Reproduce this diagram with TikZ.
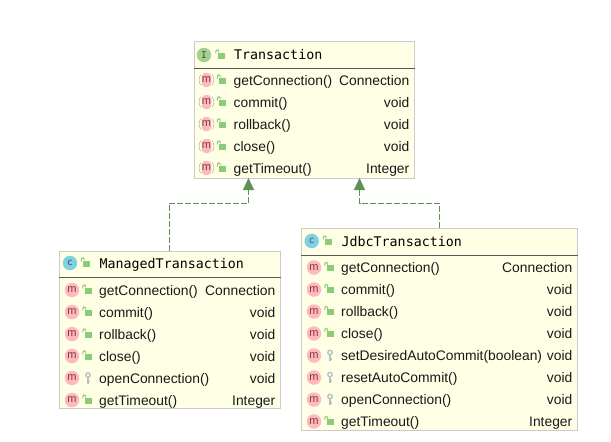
\documentclass[tikz,border=0pt]{standalone}
\usepackage{fontspec}
\setmainfont{Liberation Sans}
\newfontfamily\titlefont{DejaVu Sans Mono}
\usepackage{xcolor}
\usepackage{tikz}
\usetikzlibrary{shapes.geometric, arrows.meta, positioning, calc}
\definecolor{boxfill}{HTML}{FFFFE5}
\definecolor{boxline}{HTML}{CBCBCB}
\definecolor{lockgreen}{HTML}{8CCB78}
\definecolor{keygray}{HTML}{B4BFC7}
\definecolor{mpink}{HTML}{FFB8BC}
\definecolor{mtext}{HTML}{7A3A3C}
\definecolor{ifacegreen}{HTML}{A5D08E}
\definecolor{classblue}{HTML}{80D0E4}
\definecolor{arrowgreen}{HTML}{5E9253}
\tikzstyle{classbox} = [rectangle, draw=boxline, fill=boxfill, line width=1pt, inner sep=0pt, anchor=north west]
\tikzstyle{divider} = [draw=black!65, line width=0.8pt]
\tikzstyle{titletext} = [inner sep=0pt, anchor=base west, font=\titlefont\fontsize{13.3}{16}\selectfont]
\tikzstyle{nametext} = [inner sep=0pt, anchor=base west, font=\fontsize{13.85}{16}\selectfont, text=black!90]
\tikzstyle{typetext} = [inner sep=0pt, anchor=base east, font=\fontsize{13.85}{16}\selectfont, text=black!90]
\tikzstyle{methodicon} = [circle, fill=mpink, minimum size=14.5pt, inner sep=0pt, text=mtext, font=\fontsize{11}{11}\selectfont]
\tikzstyle{abstracticon} = [rectangle, rounded corners=3.5pt, fill=mpink, minimum width=9.5pt, minimum height=14pt, inner sep=0pt, text=mtext, font=\fontsize{11}{11}\selectfont]
\tikzstyle{classicon} = [circle, fill=#1, minimum size=14.5pt, inner sep=0pt, text=black!70, font=\titlefont\fontsize{9.5}{10}\selectfont]
\tikzstyle{lockbody} = [rectangle, fill=lockgreen, minimum width=7pt, minimum height=6pt, inner sep=0pt]
\tikzstyle{lockloop} = [draw=lockgreen, line width=1.1pt, rounded corners=1pt]
\tikzstyle{keyhead} = [circle, draw=keygray, line width=1.3pt, minimum size=4.5pt, inner sep=0pt]
\tikzstyle{keystem} = [draw=keygray, line width=1.5pt]
\tikzstyle{parenline} = [draw=black!30, line width=0.6pt]
\tikzstyle{arrow} = [draw=arrowgreen, line width=1pt, dash pattern=on 6pt off 2pt, -{Triangle[length=12pt, width=11pt, fill=arrowgreen]}]

% open lock and key, placed relative to the class box
\newcommand{\publock}[4]{
  \node (#1) [lockbody] at ($(#2.north west)+(#3,#4)$) {};
  \draw [lockloop] ($(#1.north west)+(1.3,0)$) -- ++(0,-2.3) -- ++(-2.8,0) -- ++(0,3.4);
}
\newcommand{\keylock}[4]{
  \node (#1) [keyhead] at ($(#2.north west)+(#3,#4-3.5)$) {};
  \draw [keystem] (#1.south) -- ++(0,6) (#1.south) ++(0,3.5) -- ++(1.8,0);
}
% one method row: id, box, y, m icon, lock macro, name, type
\newcommand{\methodrow}[7]{
  \node (#1icon) [#4] at ($(#2.north west)+(13,#3)$) {m};
  #5{#1lock}{#2}{29}{#3+0.5}
  \node (#1name) [nametext] at ($(#2.north west)+(40,#3+5)$) {#6};
  \node (#1type) [typetext] at ($(#2.north east)+(-5.5,#3+5)$) {#7};
}
% brackets round the m of an interface method
\newcommand{\methodparens}[1]{
  \draw [parenline] ($(#1icon.north west)+(-0.8,2)$) to[bend right=35] ($(#1icon.south west)+(-0.8,-2)$);
  \draw [parenline] ($(#1icon.north east)+(0.8,2)$) to[bend left=35] ($(#1icon.south east)+(0.8,-2)$);
}

\begin{document}
\begin{tikzpicture}[x=1pt, y=-1pt]
  \useasboundingbox (0,0) rectangle (611,442);

  \node (transaction) [classbox, minimum width=220.5pt, minimum height=137pt] at (193.5,41) {};
  \node (managed) [classbox, minimum width=221pt, minimum height=157pt] at (59,251) {};
  \node (jdbc) [classbox, minimum width=276pt, minimum height=202pt] at (301,228) {};

  \draw [divider] ($(transaction.north west)+(0,27)$) -- ($(transaction.north east)+(0,27)$);
  \draw [divider] ($(managed.north west)+(0,26)$) -- ($(managed.north east)+(0,26)$);
  \draw [divider] ($(jdbc.north west)+(0,27)$) -- ($(jdbc.north east)+(0,27)$);

  % headers
  \node (transactionicon) [classicon=ifacegreen] at ($(transaction.north west)+(10.5,14)$) {I};
  \publock{transactionlock}{transaction}{27.5}{14.5}
  \node (transactiontitle) [titletext] at ($(transaction.north west)+(40.5,18.8)$) {Transaction};

  \node (managedicon) [classicon=classblue] at ($(managed.north west)+(11,12)$) {c};
  \publock{managedlock}{managed}{27.5}{12.5}
  \node (managedtitle) [titletext] at ($(managed.north west)+(40.5,17)$) {ManagedTransaction};

  \node (jdbcicon) [classicon=classblue] at ($(jdbc.north west)+(10.7,13)$) {c};
  \publock{jdbclock}{jdbc}{27.5}{13.5}
  \node (jdbctitle) [titletext] at ($(jdbc.north west)+(40.5,18)$) {JdbcTransaction};

  % Transaction
  \methodrow{ta}{transaction}{39}{abstracticon}{\publock}{getConnection()}{Connection}
  \methodrow{tb}{transaction}{61}{abstracticon}{\publock}{commit()}{void}
  \methodrow{tc}{transaction}{83}{abstracticon}{\publock}{rollback()}{void}
  \methodrow{td}{transaction}{105}{abstracticon}{\publock}{close()}{void}
  \methodrow{te}{transaction}{127}{abstracticon}{\publock}{getTimeout()}{Integer}
  \methodparens{ta}
  \methodparens{tb}
  \methodparens{tc}
  \methodparens{td}
  \methodparens{te}

  % ManagedTransaction
  \methodrow{ma}{managed}{39}{methodicon}{\publock}{getConnection()}{Connection}
  \methodrow{mb}{managed}{61}{methodicon}{\publock}{commit()}{void}
  \methodrow{mc}{managed}{83}{methodicon}{\publock}{rollback()}{void}
  \methodrow{md}{managed}{105}{methodicon}{\publock}{close()}{void}
  \methodrow{me}{managed}{127}{methodicon}{\keylock}{openConnection()}{void}
  \methodrow{mf}{managed}{149}{methodicon}{\publock}{getTimeout()}{Integer}

  % JdbcTransaction
  \methodrow{ja}{jdbc}{39.5}{methodicon}{\publock}{getConnection()}{Connection}
  \methodrow{jb}{jdbc}{61.5}{methodicon}{\publock}{commit()}{void}
  \methodrow{jc}{jdbc}{83.5}{methodicon}{\publock}{rollback()}{void}
  \methodrow{jd}{jdbc}{105.5}{methodicon}{\publock}{close()}{void}
  \methodrow{je}{jdbc}{127.5}{methodicon}{\keylock}{setDesiredAutoCommit(boolean)}{void}
  \methodrow{jf}{jdbc}{149.5}{methodicon}{\keylock}{resetAutoCommit()}{void}
  \methodrow{jg}{jdbc}{171.5}{methodicon}{\keylock}{openConnection()}{void}
  \methodrow{jh}{jdbc}{193.5}{methodicon}{\publock}{getTimeout()}{Integer}

  \coordinate (managedbend) at (169,203);
  \coordinate (managedtip) at (248.5,178);
  \coordinate (jdbcbend) at (439,203);
  \coordinate (jdbctip) at (359.5,178);
  \draw [arrow] (managedbend |- managed.north) -- (managedbend) -| (managedtip);
  \draw [arrow] (jdbcbend |- jdbc.north) -- (jdbcbend) -| (jdbctip);
\end{tikzpicture}
\end{document}
